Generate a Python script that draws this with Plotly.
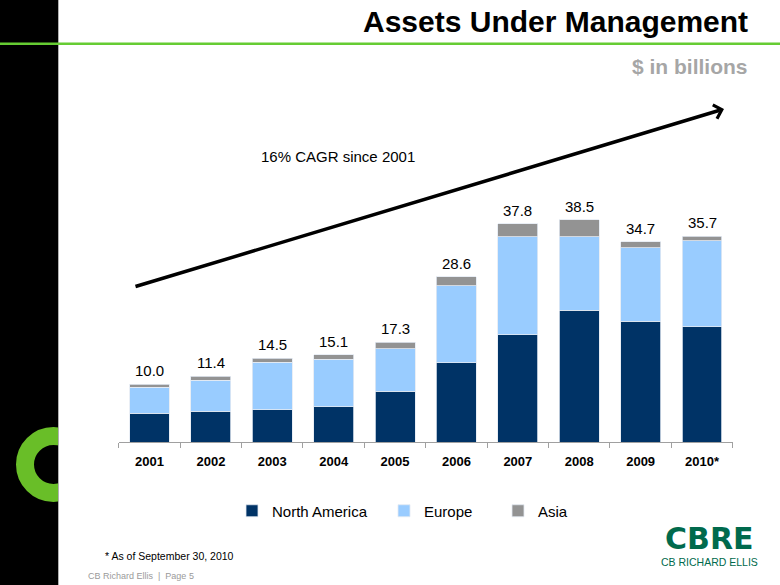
import plotly.graph_objects as go

# ---------------- data ----------------
years = ["2001", "2002", "2003", "2004", "2005", "2006", "2007", "2008", "2009", "2010*"]
north_america = [5.0, 5.3, 5.6, 6.1, 8.8, 13.7, 18.6, 22.8, 20.9, 20.0]
europe = [4.5, 5.4, 8.2, 8.2, 7.4, 13.4, 17.0, 12.8, 12.8, 14.9]
asia = [0.5, 0.7, 0.7, 0.8, 1.1, 1.5, 2.2, 2.9, 1.0, 0.8]
total_labels = ["10.0", "11.4", "14.5", "15.1", "17.3", "28.6", "37.8", "38.5", "34.7", "35.7"]
series_names = ["North America", "Europe", "Asia"]

# ---------------- helpers ----------------
W, H = 780, 585


def px(x):
    return x / W


def py(y):
    return 1 - y / H


FONT = "Arial, 'Liberation Sans', sans-serif"
NA_COLOR = "#003366"
EU_COLOR = "#99ccff"
AS_COLOR = "#939393"
GREEN = "#69be28"
SEG_LINE = dict(color="#e3eaf2", width=0.8)

fig = go.Figure()
for name, vals, col, leg in [
    (series_names[0], north_america, NA_COLOR, "legend"),
    (series_names[1], europe, EU_COLOR, "legend2"),
    (series_names[2], asia, AS_COLOR, "legend3"),
]:
    fig.add_trace(go.Bar(x=years, y=vals, name=name, marker=dict(color=col, line=SEG_LINE),
                         legend=leg, hoverinfo="x+y+name"))

totals = [a + b + c for a, b, c in zip(north_america, europe, asia)]

annotations = []
for i, (tot, lab) in enumerate(zip(totals, total_labels)):
    # category index position on the category axis
    annotations.append(dict(x=i, y=tot, xref="x", yref="y", text=lab, showarrow=False,
                            yanchor="bottom", yshift=3, font=dict(family=FONT, size=15, color="black")))

# titles and texts
annotations += [
    dict(x=px(750), y=py(22), xref="paper", yref="paper", xanchor="right", yanchor="middle",
         text="Assets Under Management", showarrow=False,
         font=dict(family=FONT, size=30, color="black", weight="bold")),
    dict(x=px(750), y=py(66), xref="paper", yref="paper", xanchor="right", yanchor="middle",
         text="$ in billions", showarrow=False,
         font=dict(family=FONT, size=21, color="#a6a6a6", weight="bold")),
    dict(x=px(337.5), y=py(157), xref="paper", yref="paper", xanchor="center", yanchor="middle",
         text="16% CAGR since 2001", showarrow=False,
         font=dict(family=FONT, size=15, color="black")),
    dict(x=px(724), y=py(109), xref="paper", yref="paper", text="", showarrow=True,
         ax=134 - 724, ay=287 - 109, axref="pixel", ayref="pixel",
         arrowhead=4, arrowsize=0.8, arrowwidth=3.5, arrowcolor="black", standoff=0, startstandoff=0),
    dict(x=px(103), y=py(556), xref="paper", yref="paper", xanchor="left", yanchor="middle",
         text="* As of September 30, 2010", showarrow=False,
         font=dict(family=FONT, size=10.5, color="black")),
    dict(x=px(86), y=py(576), xref="paper", yref="paper", xanchor="left", yanchor="middle",
         text="CB Richard Ellis  |  Page 5", showarrow=False,
         font=dict(family=FONT, size=9, color="#9a9a9a")),
    dict(x=px(709), y=py(538), xref="paper", yref="paper", xanchor="center", yanchor="middle",
         text="CBRE", showarrow=False, borderpad=0,
         font=dict(family="'DejaVu Sans', sans-serif", size=30, color="#006a4d", weight="bold")),
    dict(x=px(709.5), y=py(562), xref="paper", yref="paper", xanchor="center", yanchor="middle",
         text="CB RICHARD ELLIS", showarrow=False, borderpad=0,
         font=dict(family=FONT, size=10.5, color="#006a4d")),
]

shapes = [
    # black side band
    dict(type="rect", xref="paper", yref="paper", x0=0, x1=px(58.5), y0=0, y1=1,
         fillcolor="black", line=dict(width=0), layer="below"),
    # green ring
    dict(type="circle", xref="paper", yref="paper", x0=px(25), x1=px(82), y0=py(493), y1=py(436),
         fillcolor="rgba(0,0,0,0)", line=dict(color=GREEN, width=18), layer="below"),
    # white page covering right part of ring
    dict(type="rect", xref="paper", yref="paper", x0=px(58.5), x1=px(105), y0=py(515), y1=py(415),
         fillcolor="white", line=dict(width=0), layer="below"),
    # thin page edge
    dict(type="line", xref="paper", yref="paper", x0=px(58.5), x1=px(58.5), y0=0, y1=1,
         line=dict(color="#b0b0b0", width=1), layer="below"),
    # green rule
    dict(type="line", xref="paper", yref="paper", x0=0, x1=1, y0=py(43.7), y1=py(43.7),
         line=dict(color="#66cc33", width=2.5), layer="below"),
]

leg_common = dict(orientation="h", xanchor="left", yanchor="middle", bgcolor="rgba(0,0,0,0)",
                  borderwidth=0, font=dict(family=FONT, size=15, color="black"))

fig.update_layout(
    width=W, height=H, autosize=False,
    margin=dict(l=0, r=0, t=0, b=0, pad=0),
    paper_bgcolor="white", plot_bgcolor="rgba(0,0,0,0)",
    barmode="stack", bargap=0.349,
    showlegend=True,
    legend=dict(x=px(232), y=py(511), **leg_common),
    legend2=dict(x=px(384), y=py(511), **leg_common),
    legend3=dict(x=px(498), y=py(511), **leg_common),
    xaxis=dict(domain=[px(118.8), px(732.7)], type="category", range=[-0.5, 9.5],
               tickson="boundaries",
               ticks="outside", ticklen=5, tickcolor="#a0a0a0", tickwidth=1,
               showline=True, linecolor="#a0a0a0", linewidth=1, showgrid=False, zeroline=False,
               ticklabelstandoff=7,
               tickfont=dict(family=FONT, size=13, color="black", weight="bold")),
    yaxis=dict(domain=[py(442), py(442 - 45 * 5.77)], range=[0, 45], visible=False,
               showgrid=False, zeroline=False),
    annotations=annotations,
    shapes=shapes,
)

fig.write_html("out.html", config={"displayModeBar": False},
               post_script="document.body.style.margin='0px';")
